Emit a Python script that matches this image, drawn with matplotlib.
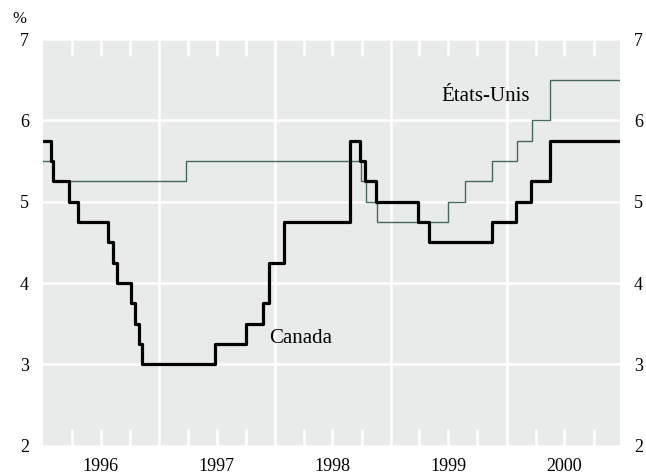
import matplotlib
matplotlib.use("Agg")
import matplotlib.pyplot as plt
import matplotlib.dates as mdates
import matplotlib.transforms as mtransforms
from matplotlib.ticker import FuncFormatter, FixedLocator
import pandas as pd

# ---- data ----
canada_dates = ["1996-01-01", "1996-01-27", "1996-02-01", "1996-03-24", "1996-04-19",
                "1996-07-23", "1996-08-07", "1996-08-21", "1996-10-03", "1996-10-18",
                "1996-10-28", "1996-11-09", "1997-06-26", "1997-10-02", "1997-11-25",
                "1997-12-13", "1998-01-30", "1998-08-24", "1998-09-27", "1998-10-13",
                "1998-11-15", "1999-03-27", "1999-04-30", "1999-11-15", "2000-01-31",
                "2000-03-19", "2000-05-15", "2000-12-23"]
canada_rates = [5.75, 5.5, 5.25, 5.0, 4.75,
                4.5, 4.25, 4.0, 3.75, 3.5,
                3.25, 3.0, 3.25, 3.5, 3.75,
                4.25, 4.75, 5.75, 5.5, 5.25,
                5.0, 4.75, 4.5, 4.75, 5.0,
                5.25, 5.75, 5.75]

us_dates = ["1996-01-01", "1996-01-31", "1997-03-25", "1998-09-29", "1998-10-15",
            "1998-11-17", "1999-06-30", "1999-08-24", "1999-11-16", "2000-02-02",
            "2000-03-21", "2000-05-16", "2000-12-23"]
us_rates = [5.5, 5.25, 5.5, 5.25, 5.0,
            4.75, 5.0, 5.25, 5.5, 5.75,
            6.0, 6.5, 6.5]

y_ticks = [2, 3, 4, 5, 6, 7]
series_labels = ["Canada", "États-Unis"]

# ---- figure ----
plt.rcParams['font.family'] = ['Liberation Serif', 'DejaVu Serif']
fig = plt.figure(figsize=(6.46, 4.76), dpi=100)
ax = fig.add_axes([43/646, 1-445.7/476, (620-43)/646, (445.7-39)/476])
ax.set_facecolor("#e8ebea")

cd = pd.to_datetime(canada_dates)
ud = pd.to_datetime(us_dates)
ax.step(ud, us_rates, where="post", color="#456a5c", lw=1.0, zorder=3)
ax.step(cd, canada_rates, where="post", color="black", lw=2.3, zorder=4)

ax.set_xlim(pd.Timestamp("1996-01-01"), pd.Timestamp("2000-12-23"))
ax.set_ylim(2, 7)

for s in ax.spines.values():
    s.set_visible(False)

# year boundaries (grid) and quarter ticks
year_starts = [mdates.date2num(pd.Timestamp(f"{y}-01-01")) for y in range(1997, 2001)]
quarter_ticks = [mdates.date2num(pd.Timestamp(f"{y}-{m:02d}-01"))
                 for y in range(1996, 2001) for m in (4, 7, 10)]
ax.xaxis.set_major_locator(FixedLocator(year_starts))
ax.xaxis.set_major_formatter(FuncFormatter(lambda x, p: ""))
ax.xaxis.set_minor_locator(FixedLocator(quarter_ticks))

def qfmt(x, pos):
    d = mdates.num2date(x)
    return str(d.year) if d.month == 7 else ""

ax.xaxis.set_minor_formatter(FuncFormatter(qfmt))
ax.tick_params(axis="x", which="both", length=0, labelsize=13, pad=9.0)

# quarter tick marks drawn inside the plot (top and bottom), white
trans = mtransforms.blended_transform_factory(ax.transData, ax.transAxes)
tick_frac = 17 / (445.7 - 39)
ax.vlines(quarter_ticks, 0, tick_frac, transform=trans, color="white", lw=1.8, zorder=1.5)
ax.vlines(quarter_ticks, 1 - tick_frac, 1, transform=trans, color="white", lw=1.8, zorder=1.5)

ax.set_yticks(y_ticks)
ax.tick_params(axis="y", which="major", length=0, labelsize=13, pad=10.0,
               left=True, right=True, labelleft=True, labelright=True)

ax.grid(True, which="major", color="white", lw=1.8)
ax.set_axisbelow(True)

fig.text(19/646, 1-19/476, "%", ha="center", va="center", fontsize=12)

ax.text(pd.Timestamp("1997-12-13"), 3.32, series_labels[0], ha="left", va="center", fontsize=15)
ax.text(pd.Timestamp("1999-06-08"), 6.29, series_labels[1], ha="left", va="center", fontsize=15)

fig.savefig("out.png", dpi=100)
